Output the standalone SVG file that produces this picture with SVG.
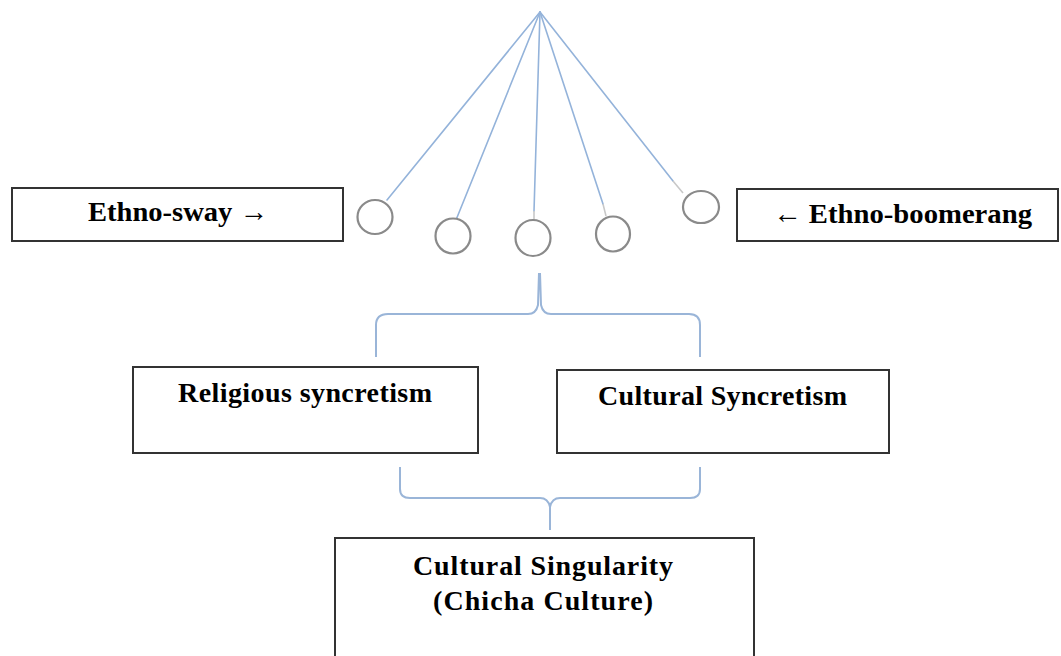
<svg xmlns="http://www.w3.org/2000/svg" width="1061" height="656" viewBox="0 0 1061 656">
  <style>
    .box { fill: #ffffff; stroke: #333333; stroke-width: 2; }
    .lbl { font-family: "Liberation Serif", "Times New Roman", serif; font-weight: bold; font-size: 28px; fill: #000000; }
    .fan { stroke: #94b3da; stroke-width: 1.6; fill: none; stroke-linecap: round; }
    .stub { stroke: #c8c8c8; stroke-width: 1.6; fill: none; }
    .ball { fill: #ffffff; stroke: #8a8a8a; stroke-width: 2.2; }
    .brace { stroke: #9ab5d8; stroke-width: 2; fill: none; stroke-linejoin: round; }
  </style>
  <rect width="1061" height="656" fill="#ffffff"/>

  <g id="connectors">
    <line class="fan" x1="540" y1="12" x2="387" y2="200"/>
    <line class="fan" x1="540" y1="12" x2="456" y2="220"/>
    <line class="fan" x1="540" y1="12" x2="534" y2="211"/>
    <line class="stub" x1="534" y1="211" x2="534" y2="220"/>
    <line class="fan" x1="540" y1="12" x2="603" y2="204"/>
    <line class="stub" x1="603" y1="204" x2="606" y2="216"/>
    <line class="fan" x1="540" y1="12" x2="673" y2="181"/>
    <line class="stub" x1="673" y1="181" x2="683" y2="193"/>
    <path class="brace" d="M376,357 L376,325 Q376,314 388,314 L528,314 Q536,314 538,305 L539,273 M540,273 L541,305 Q543,314 551,314 L689,314 Q700,314 700,325 L700,357"/>
    <path class="brace" d="M400,467 L400,489 Q400,498 410,498 L540,498 Q548,498 550,507 L550,530 M550,507 Q552,498 560,498 L690,498 Q700,498 700,489 L700,467"/>
  </g>

  <g id="ball1"><ellipse class="ball" cx="375" cy="217" rx="17.5" ry="17"/></g>
  <g id="ball2"><ellipse class="ball" cx="453" cy="236" rx="17.5" ry="17.5"/></g>
  <g id="ball3"><ellipse class="ball" cx="533" cy="238" rx="17.5" ry="18"/></g>
  <g id="ball4"><ellipse class="ball" cx="613" cy="234" rx="17" ry="17.5"/></g>
  <g id="ball5"><ellipse class="ball" cx="701" cy="207" rx="18" ry="16"/></g>

  <g id="ethno-sway">
    <rect class="box" x="12" y="188" width="331" height="53"/>
    <text class="lbl" x="88" y="221" textLength="180" lengthAdjust="spacingAndGlyphs">Ethno-sway →</text>
  </g>

  <g id="ethno-boomerang">
    <rect class="box" x="737" y="189" width="321" height="52"/>
    <text class="lbl" x="773" y="223" textLength="259" lengthAdjust="spacingAndGlyphs">← Ethno-boomerang</text>
  </g>

  <g id="religious-syncretism">
    <rect class="box" x="133" y="367" width="345" height="86"/>
    <text class="lbl" x="178" y="402" textLength="254" lengthAdjust="spacing">Religious syncretism</text>
  </g>

  <g id="cultural-syncretism">
    <rect class="box" x="557" y="370" width="332" height="83"/>
    <text class="lbl" x="598" y="405" textLength="249" lengthAdjust="spacing">Cultural Syncretism</text>
  </g>

  <g id="cultural-singularity">
    <rect class="box" x="335" y="538" width="419" height="130"/>
    <text class="lbl" x="413" y="575" textLength="260" lengthAdjust="spacing">Cultural Singularity</text>
    <text class="lbl" x="433" y="610" textLength="220" lengthAdjust="spacing">(Chicha Culture)</text>
  </g>
</svg>
